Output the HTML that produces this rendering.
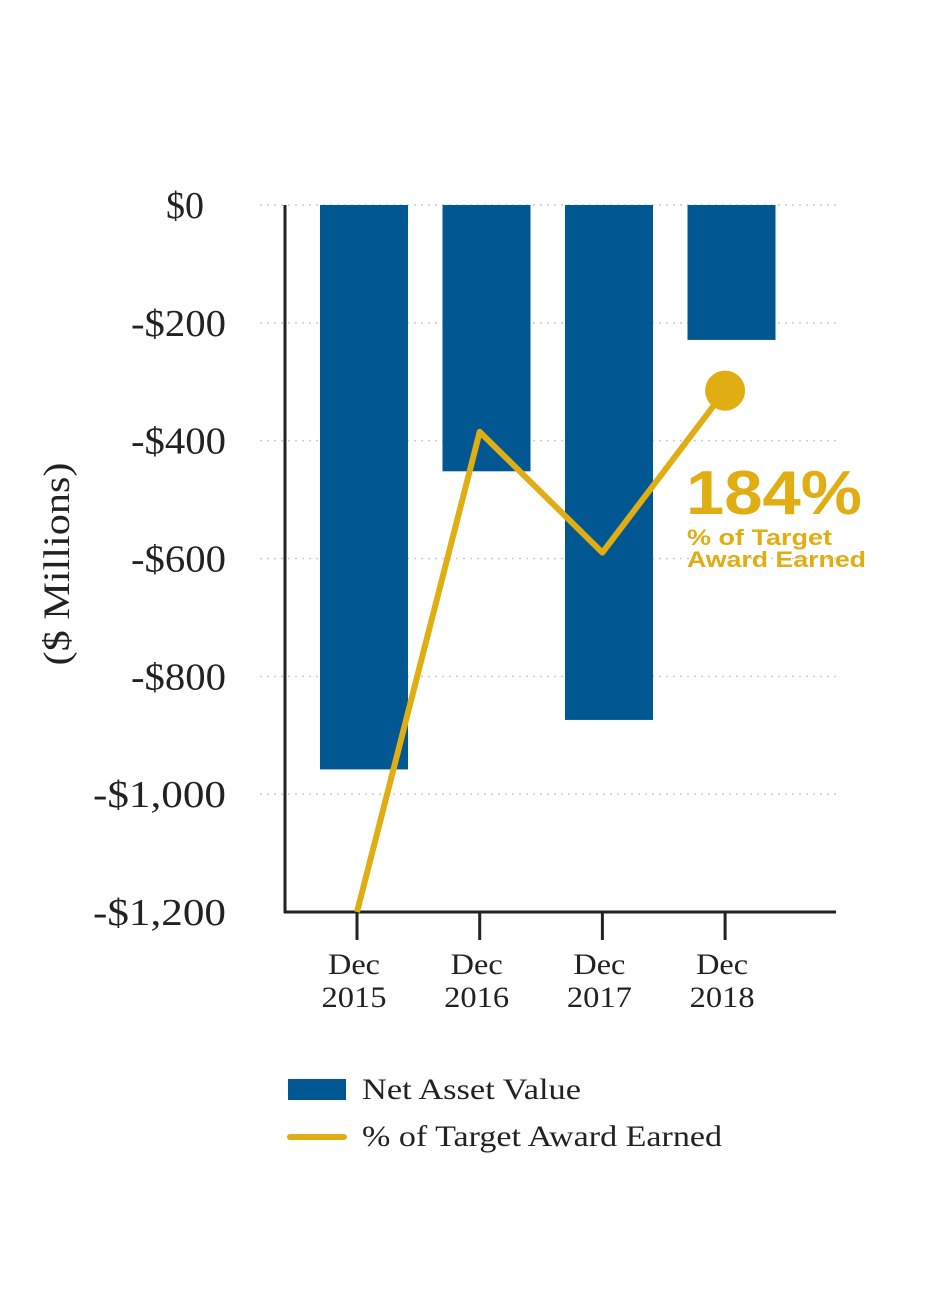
<!DOCTYPE html>
<html><head><meta charset="utf-8"><style>
body{margin:0;background:#fff;width:930px;height:1295px;overflow:hidden}
svg text{font-family:"Liberation Serif",serif}
</style></head><body>
<svg id="chart" width="930" height="1295" xmlns="http://www.w3.org/2000/svg">
<g id="grid"></g>
<g id="bars"></g>
<g id="axes"></g>
<g id="line"></g>
<text transform="translate(69,564) rotate(-90)" text-anchor="middle" font-size="37" textLength="203" lengthAdjust="spacingAndGlyphs" fill="#222">($ Millions)</text>
<text x="686" y="514" style="font-family:'Liberation Sans',sans-serif" font-weight="bold" font-size="62" textLength="176" lengthAdjust="spacingAndGlyphs" fill="#e0ad12">184%</text>
<text x="687" y="545" style="font-family:'Liberation Sans',sans-serif" font-weight="bold" font-size="22" textLength="145" lengthAdjust="spacingAndGlyphs" fill="#e0ad12">% of Target</text>
<text x="687" y="567" style="font-family:'Liberation Sans',sans-serif" font-weight="bold" font-size="22" textLength="179" lengthAdjust="spacingAndGlyphs" fill="#e0ad12">Award Earned</text>
<rect x="288" y="1079" width="58" height="21" fill="#005792"/>
<text x="362" y="1099" font-size="30" textLength="219" lengthAdjust="spacingAndGlyphs" fill="#222">Net Asset Value</text>
<line x1="290" y1="1137" x2="344" y2="1137" stroke="#e0ad12" stroke-width="6" stroke-linecap="round"/>
<text x="362" y="1146" font-size="30" textLength="360" lengthAdjust="spacingAndGlyphs" fill="#222">% of Target Award Earned</text>
</svg>
<script>
const categories=["Dec|2015","Dec|2016","Dec|2017","Dec|2018"];
const navValues=[-958,-452,-874,-229];
const awardValues=[-1200,-385,-590,-315];
const yTicks=[0,-200,-400,-600,-800,-1000,-1200];
const yTickLabels=["$0","-$200","-$400","-$600","-$800","-$1,000","-$1,200"];
const NS="http://www.w3.org/2000/svg";
function y(v){return 205+(-v)/1200*707;}
function xc(i){return 364+i*122.5;}
function tickX(i){return 357+i*122.7;}
function mk(p,t,a){const e=document.createElementNS(NS,t);for(const k in a)e.setAttribute(k,a[k]);p.appendChild(e);return e;}
const grid=document.getElementById('grid'),bars=document.getElementById('bars'),axes=document.getElementById('axes'),line=document.getElementById('line');
yTicks.forEach((v,i)=>{
 if(v>-1200){const g=mk(grid,'line',{x1:260,x2:836,y1:y(v),y2:y(v),stroke:'#ccc','stroke-width':1.5,'stroke-dasharray':'2 5'});
 
 }
 const lbl=yTickLabels[i];
 const t=mk(axes,'text',{x:v===0?204:226,y:y(v)+13,'text-anchor':'end','font-size':38,textLength:lbl.length*19,lengthAdjust:'spacingAndGlyphs',fill:'#222'});t.textContent=lbl;
 
 
});
navValues.forEach((v,i)=>{
 const r=mk(bars,'rect',{x:xc(i)-44,y:y(0),width:88,height:y(v)-y(0),fill:'#005792'});
 
 
});
mk(axes,'line',{x1:285,x2:285,y1:205,y2:913,stroke:'#222','stroke-width':3});
mk(axes,'line',{x1:284,x2:836,y1:912,y2:912,stroke:'#222','stroke-width':3});
categories.forEach((c,i)=>{
 const tx=tickX(i);
 mk(axes,'line',{x1:tx,x2:tx,y1:912,y2:940,stroke:'#222','stroke-width':3});
 const p=c.split('|');
 [p[0],p[1]].forEach((s,j)=>{const t=mk(axes,'text',{x:tx-3,y:974+j*33,'text-anchor':'middle','font-size':30,textLength:j?65:52,lengthAdjust:'spacingAndGlyphs',fill:'#222'});t.textContent=s;
 
 });
});
const pts=awardValues.map((v,i)=>tickX(i)+','+y(v)).join(' ');
const pl=mk(line,'polyline',{points:pts,fill:'none',stroke:'#e0ad12','stroke-width':6,'stroke-linejoin':'round'});


const last=awardValues.length-1;
const dot=mk(line,'circle',{cx:tickX(last),cy:y(awardValues[last]),r:20,fill:'#e0ad12'});


</script>
</body></html>
